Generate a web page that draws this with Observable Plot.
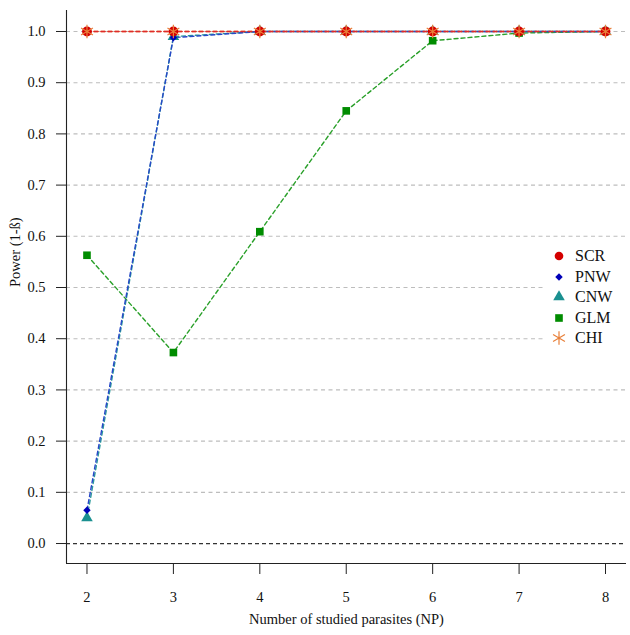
<!DOCTYPE html>
<html>
<head>
<meta charset="utf-8">
<script src="https://cdn.jsdelivr.net/npm/d3@7"></script>
<script src="https://cdn.jsdelivr.net/npm/@observablehq/plot@0.6"></script>
<style>
  html, body { margin: 0; padding: 0; background: #fff; }
  #wrap { position: relative; width: 630px; height: 635px; }
  #wrap svg text { font-family: "Liberation Serif", "DejaVu Serif", serif; }
  #legend { position: absolute; left: 545px; top: 245px; width: 81px; height: 104px; background: #fff;
            font-family: "Liberation Serif", "DejaVu Serif", serif; font-size: 16px; color: #111; }
  .row { position: absolute; left: 0; height: 20px; display: flex; align-items: center; }
  .row svg { width: 28px; height: 20px; }
  .row span { margin-left: 2px; line-height: 20px; }
</style>
</head>
<body>
<div id="wrap"><div id="legend"></div></div>
<script>
const xValues = [2, 3, 4, 5, 6, 7, 8];
const SCR = [1, 1, 1, 1, 1, 1, 1];
const PNW = [0.065, 0.988, 1, 1, 1, 1, 1];
const CNW = [0.05, 0.99, 1, 1, 1, 1, 1];
const GLM = [0.563, 0.373, 0.609, 0.845, 0.982, 0.997, 1.0];
const CHI = [1, 1, 1, 1, 1, 1, 1];

const seriesNames = ["SCR", "PNW", "CNW", "GLM", "CHI"];
const seriesValues = [SCR, PNW, CNW, GLM, CHI];
const yTicks = [0, 0.1, 0.2, 0.3, 0.4, 0.5, 0.6, 0.7, 0.8, 0.9, 1.0];
const gridTicks = [0.1, 0.2, 0.3, 0.4, 0.5, 0.6, 0.7, 0.8, 0.9, 1.0];

// square rotated 45 degrees (R pch 18 style)
const squareDiamond = {
  draw(context, size) {
    const h = Math.sqrt(size) / 2;
    context.moveTo(0, -h);
    context.lineTo(h, 0);
    context.lineTo(0, h);
    context.lineTo(-h, 0);
    context.closePath();
  }
};

const style = {
  SCR: {symbol: "circle", mark: "#d40000", line: "#e02a2a", r: 4.9, filled: true},
  PNW: {symbol: squareDiamond, mark: "#0000b8", line: "#2848c8", r: 4.2, filled: true},
  CNW: {symbol: "triangle", mark: "#1a9090", line: "#2a9a9a", r: 4.3, filled: true},
  GLM: {symbol: "square", mark: "#008c00", line: "#2aa02a", r: 4.3, filled: true},
  CHI: {symbol: "asterisk", mark: "#e8803a", line: "#e8803a", r: 6.5, filled: false}
};

const data = [];
seriesNames.forEach((s, i) => xValues.forEach((x, j) => data.push({series: s, x, y: seriesValues[i][j]})));

const xDomain = [1.763, 8.243];
const yDomain = [-0.039, 1.041];
const font = "'Liberation Serif', 'DejaVu Serif', serif";
const fs = 14.5;

const order = ["CHI", "GLM", "CNW", "PNW", "SCR"];
const marks = [
  Plot.ruleY(gridTicks, {stroke: "#bdbdbd", strokeWidth: 1.1, strokeDasharray: "4,3.5"}),
  Plot.ruleY([0], {stroke: "#333", strokeWidth: 1.2, strokeDasharray: "4,3"}),
  Plot.ruleX([xDomain[0]], {stroke: "#222", strokeWidth: 1.1}),
  Plot.ruleY([yDomain[0]], {stroke: "#222", strokeWidth: 1.1}),
  Plot.axisY(yTicks, {tickSize: 10, tickPadding: 11, tickFormat: d3.format(".1f"), fontSize: fs, fontFamily: font, label: null, stroke: "#222"}),
  Plot.axisX(xValues, {tickSize: 11, tickPadding: 17, tickFormat: d => String(d), fontSize: fs, fontFamily: font, label: null, stroke: "#222"}),
  Plot.text(["Power (1-ß)"], {frameAnchor: "left", rotate: -90, dx: -51, fontSize: fs, fontFamily: font, fill: "#111"}),
  Plot.text(["Number of studied parasites (NP)"], {frameAnchor: "bottom", dy: 60, fontSize: fs, fontFamily: font, fill: "#111"})
];
for (const s of order) {
  const st = style[s];
  marks.push(Plot.line(data.filter(d => d.series === s), {x: "x", y: "y", stroke: st.line, strokeWidth: 1.4, strokeDasharray: "4,3"}));
}
for (const s of ["GLM", "CNW", "PNW", "SCR", "CHI"]) {
  const st = style[s];
  const pts = data.filter(d => d.series === s);
  if (st.filled) {
    marks.push(Plot.dot(pts, {x: "x", y: "y", symbol: () => st.symbol, r: st.r, fill: st.mark, stroke: "none"}));
  } else {
    marks.push(Plot.dot(pts, {x: "x", y: "y", symbol: () => st.symbol, r: st.r, stroke: st.mark, strokeWidth: 1.2, fill: "none"}));
  }
}

const chart = Plot.plot({
  width: 630,
  height: 635,
  marginLeft: 66,
  marginRight: 4,
  marginTop: 10,
  marginBottom: 72,
  style: {fontFamily: font, fontSize: fs + "px", color: "#111", background: "#fff"},
  x: {domain: xDomain},
  y: {domain: yDomain},
  symbol: {type: "identity"},
  marks
});
chart.style.position = "absolute";
chart.style.left = "0";
chart.style.top = "0";
const wrap = document.getElementById("wrap");
wrap.insertBefore(chart, wrap.firstChild);

// legend
const legend = document.getElementById("legend");
const symbolMap = {circle: d3.symbolCircle, triangle: d3.symbolTriangle, square: d3.symbolSquare, asterisk: d3.symbolAsterisk};
seriesNames.forEach((s, i) => {
  const st = style[s];
  const row = document.createElement("div");
  row.className = "row";
  row.style.top = (1 + i * 20.5) + "px";
  const type = typeof st.symbol === "string" ? symbolMap[st.symbol] : st.symbol;
  const rr = s === "SCR" ? 4.3 : st.r;
  const path = d3.symbol(type, Math.PI * rr * rr)();
  const fill = st.filled ? st.mark : "none";
  const stroke = st.filled ? "none" : st.mark;
  row.innerHTML = `<svg viewBox="0 0 28 20"><path transform="translate(14,10)" d="${path}" fill="${fill}" stroke="${stroke}" stroke-width="1.2"></path></svg><span>${s}</span>`;
  legend.appendChild(row);
});
</script>
</body>
</html>
